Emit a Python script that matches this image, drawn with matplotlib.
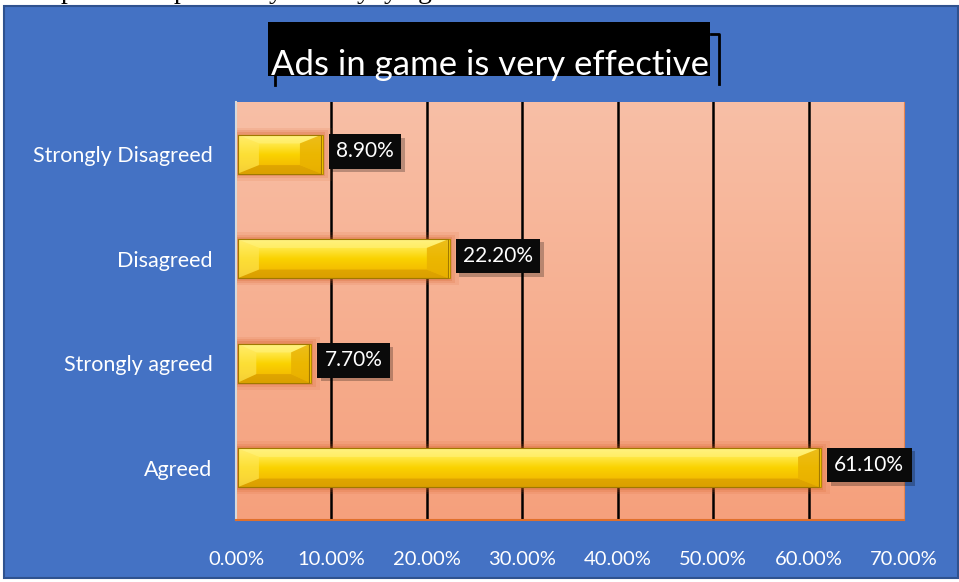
import numpy as np
import matplotlib.pyplot as plt
import matplotlib.patheffects as pe
from matplotlib.patches import Rectangle
from matplotlib.colors import LinearSegmentedColormap

categories = ["Agreed", "Strongly agreed", "Disagreed", "Strongly Disagreed"]
values = [61.1, 7.7, 22.2, 8.9]
xticks = [0, 10, 20, 30, 40, 50, 60, 70]
title = "Ads in game is very effective"

FONT = ["Lato", "DejaVu Sans"]
BLUE = "#4472C4"


def main():
    fig = plt.figure(figsize=(9.59, 5.82), dpi=100)
    fig.patch.set_facecolor("white")

    # blue chart frame under the white strip of the page
    fig.patches.append(Rectangle((4 / 959, 4 / 582), 954 / 959, 572 / 582,
                                 transform=fig.transFigure, facecolor=BLUE,
                                 edgecolor="#2F528F", lw=1.5, zorder=-5))
    # descenders of the page text cut off above the chart
    for ch, px in [("p", 68), ("p", 181), ("y", 276), ("y", 364), ("y", 391), ("g", 425)]:
        fig.text(px / 959, 1 + 2 / 582, ch, family="Liberation Serif", fontsize=20,
                 color="black", ha="center", va="baseline", zorder=-6)

    ax = fig.add_axes([236 / 959, 1 - 520 / 582, 668 / 959, 418 / 582])
    y = np.arange(len(categories))
    h = 0.37

    ax.set_xlim(0, 70)
    ax.set_ylim(-0.5, len(categories) - 0.5)

    # plot area gradient
    bg = LinearSegmentedColormap.from_list("bg", ["#F5A07C", "#F8BFA6"])
    ax.imshow(np.linspace(0, 1, 256).reshape(-1, 1), cmap=bg, aspect="auto",
              extent=(0, 70, -0.5, len(categories) - 0.5), origin="lower", zorder=0)

    for x in xticks[1:-1]:
        ax.axvline(x, color="black", lw=1.8, zorder=1)

    # glow behind bars
    for grow, a in [(0.14, 0.10), (0.09, 0.15), (0.05, 0.2)]:
        ax.barh(y, [v + grow * 8 for v in values], height=h + grow, left=0,
                color="#D2581E", alpha=a, lw=0, zorder=2)

    bars = ax.barh(y, values, height=h, left=0.2, color="#F7C800", edgecolor="#B58A00",
                   lw=0.8, zorder=3)

    gold = LinearSegmentedColormap.from_list(
        "gold", ["#E2A800", "#F5C000", "#FAD200", "#FFE640", "#FFF38A"])
    for b, v in zip(bars, values):
        y0 = b.get_y()
        x0 = b.get_x()
        im = ax.imshow(np.linspace(0, 1, 128).reshape(-1, 1), cmap=gold, aspect="auto",
                       extent=(x0, v, y0, y0 + h), origin="lower", zorder=3.5)
        im.set_clip_path(b)
        # bevel faces
        bev = h * 0.22
        dx = min(2.2, v * 0.25)
        ax.fill([x0, v, v - dx, x0 + dx], [y0 + h, y0 + h, y0 + h - bev, y0 + h - bev],
                color="#FFF27A", alpha=0.6, lw=0, zorder=4)
        ax.fill([x0, v, v - dx, x0 + dx], [y0, y0, y0 + bev, y0 + bev],
                color="#D89C00", alpha=0.7, lw=0, zorder=4)
        ax.fill([v, v, v - dx, v - dx], [y0, y0 + h, y0 + h - bev, y0 + bev],
                color="#E8B000", alpha=0.8, lw=0, zorder=4)
        ax.fill([x0, x0, x0 + dx, x0 + dx], [y0, y0 + h, y0 + h - bev, y0 + bev],
                color="#FFE85A", alpha=0.6, lw=0, zorder=4)
        ax.plot([x0, v, v, x0, x0], [y0 + h, y0 + h, y0, y0, y0 + h],
                color="#A07800", lw=0.8, zorder=5)

    for yi, v in zip(y, values):
        ann = ax.annotate(f"{v:.2f}%", (v, yi), xytext=(11, 2), textcoords="offset points",
                          ha="left", va="center", fontsize=15, color="white", family=FONT,
                          bbox=dict(boxstyle="square,pad=0.35", fc="#0A0A0A", ec="none"),
                          zorder=6)
        ann.get_bbox_patch().set_path_effects(
            [pe.SimplePatchShadow(offset=(2.5, -2.5), shadow_rgbFace="black", alpha=0.25),
             pe.Normal()])

    ax.set_xticks(xticks)
    ax.set_xticklabels([f"{x:.2f}%" for x in xticks], color="white", fontsize=14.5, family=FONT)
    ax.set_yticks(y)
    ax.set_yticklabels(categories, color="white", fontsize=15.5, family=FONT)
    ax.tick_params(axis="x", length=0, pad=22)
    ax.tick_params(axis="y", length=0, pad=17)

    ax.spines["top"].set_visible(False)
    ax.spines["right"].set_color("#E8864F")
    ax.spines["bottom"].set_color("#E0702C")
    ax.spines["bottom"].set_linewidth(1.5)
    ax.spines["left"].set_color("#D9D9D9")
    ax.spines["left"].set_linewidth(1.5)

    # title in black box
    fig.patches.append(Rectangle((268 / 959, 1 - 76 / 582), 442 / 959, 54 / 582,
                                 transform=fig.transFigure, facecolor="black",
                                 edgecolor="none", zorder=1))
    fig.text(490 / 959, 1 - 75 / 582, title, ha="center", va="baseline",
             fontsize=25, color="white", family=FONT, zorder=10)
    fig.lines.append(plt.Line2D([711 / 959, 719 / 959, 719 / 959],
                                [1 - 34 / 582, 1 - 34 / 582, 1 - 84 / 582],
                                transform=fig.transFigure, color="black", lw=2))
    fig.lines.append(plt.Line2D([275 / 959, 275 / 959], [1 - 75 / 582, 1 - 85 / 582],
                                transform=fig.transFigure, color="black", lw=2))

    plt.savefig("out.png", dpi=100)


if __name__ == '__main__':
    main()
